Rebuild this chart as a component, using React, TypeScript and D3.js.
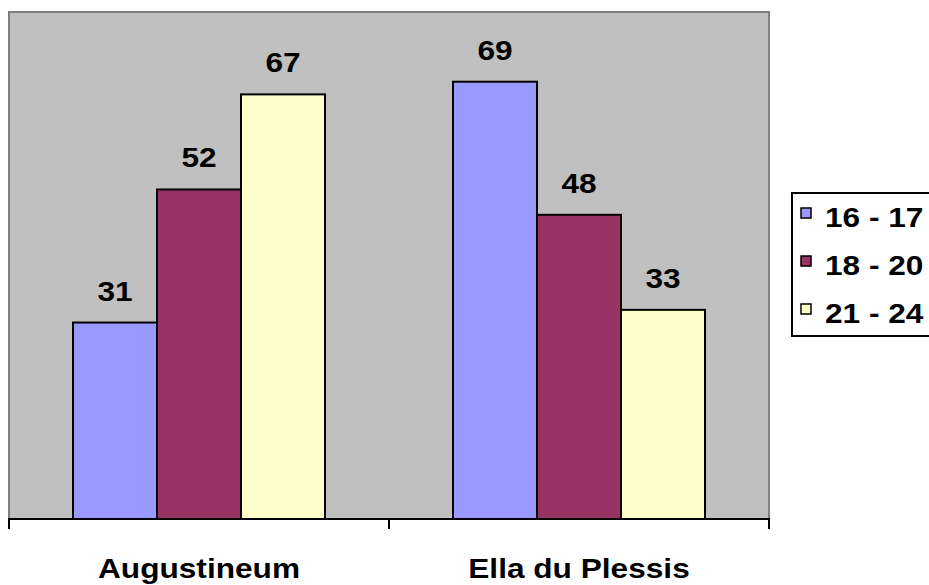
import React from "react";
import * as d3 from "d3";

const categories = ["Augustineum", "Ella du Plessis"];
const series = ["16 - 17", "18 - 20", "21 - 24"];
const values: number[][] = [
  [31, 52, 67],
  [69, 48, 33],
];
const colors = ["#9999FF", "#993366", "#FFFFCC"];
const yMax = 80;

const W = 929;
const H = 585;
const plot = { left: 9, right: 769, top: 12, bottom: 519 };
const FONT = "'Liberation Sans', Arial, sans-serif";
const FS = 28;
const SX = 1.13;

function SText({ x, y, children, anchor = "middle" }: { x: number; y: number; children: React.ReactNode; anchor?: string }) {
  return (
    <g transform={`translate(${x},${y}) scale(${SX},1)`}>
      <text x={0} y={0} textAnchor={anchor as any} fontFamily={FONT} fontWeight="bold" fontSize={FS} fill="#000">
        {children}
      </text>
    </g>
  );
}

export default function App() {
  const x = d3.scaleBand<string>().domain(categories).range([plot.left, plot.right]).paddingInner(0).paddingOuter(0);
  const bw = x.bandwidth();
  const xs = d3.scaleBand<string>().domain(series).range([bw * (64 / 380), bw * (316 / 380)]).padding(0);
  const y = d3.scaleLinear().domain([0, yMax]).range([plot.bottom, plot.top]);

  const ticks = [plot.left, ...categories.map((c) => (x(c) as number) + bw)];

  return (
    <svg width={W} height={H} style={{ position: "fixed", left: 0, top: 0, background: "#fff" }}>
      <rect x={plot.left} y={plot.top} width={plot.right - plot.left} height={plot.bottom - plot.top} fill="#C0C0C0" />
      <path
        d={`M${plot.left},${plot.bottom} L${plot.left},${plot.top} L${plot.right},${plot.top} L${plot.right},${plot.bottom}`}
        fill="none"
        stroke="#808080"
        strokeWidth={2}
      />
      {categories.map((c, ci) =>
        series.map((s, si) => {
          const v = values[ci][si];
          const bx = (x(c) as number) + (xs(s) as number);
          const by = y(v);
          return (
            <g key={c + s}>
              <rect x={bx} y={by} width={xs.bandwidth()} height={plot.bottom - by} fill={colors[si]} stroke="#000" strokeWidth={2} />
              <SText x={bx + xs.bandwidth() / 2} y={by - 22}>{String(v)}</SText>
            </g>
          );
        })
      )}
      <line x1={plot.left - 1} x2={plot.right + 1} y1={plot.bottom} y2={plot.bottom} stroke="#000" strokeWidth={2} />
      {ticks.map((t, i) => (
        <line key={i} x1={t} x2={t} y1={plot.bottom} y2={plot.bottom + 10} stroke="#000" strokeWidth={2} />
      ))}
      {categories.map((c) => (
        <SText key={c} x={(x(c) as number) + bw / 2} y={578}>{c}</SText>
      ))}
      <rect x={792} y={193} width={160} height={143} fill="#fff" stroke="#000" strokeWidth={2} />
      {series.map((s, i) => (
        <g key={s}>
          <rect x={801} y={208 + i * 48} width={10} height={10} fill={colors[i]} stroke="#000" strokeWidth={1.5} />
          <SText x={825} y={227 + i * 48} anchor="start">{s}</SText>
        </g>
      ))}
    </svg>
  );
}
